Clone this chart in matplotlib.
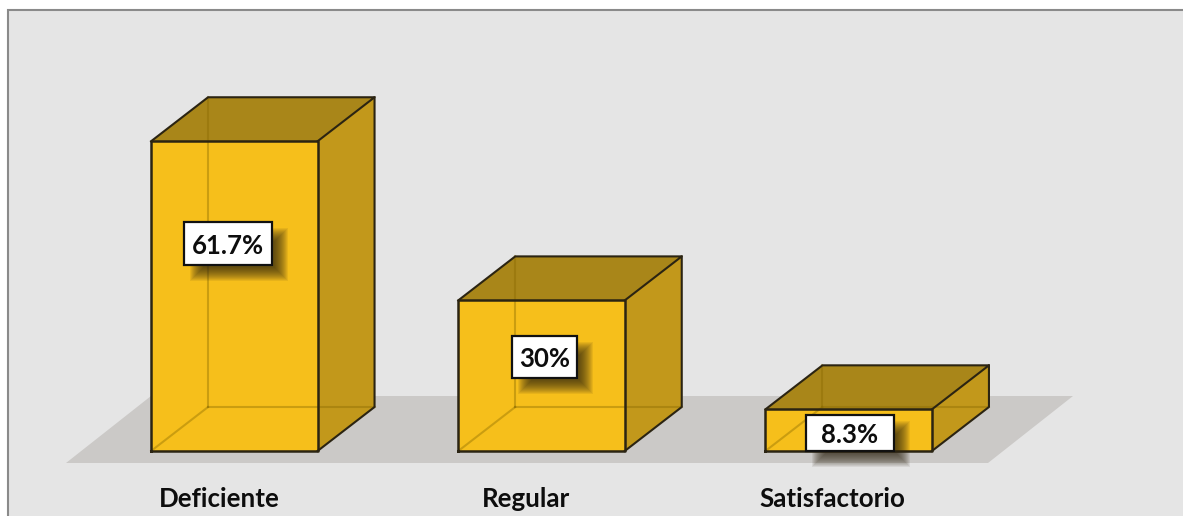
import matplotlib
matplotlib.use('Agg')
import matplotlib.pyplot as plt
from matplotlib.patches import Polygon, Rectangle

categories = ['Deficiente', 'Regular', 'Satisfactorio']
values = [61.7, 30, 8.3]
value_labels = ['61.7%', '30%', '8.3%']

W, H = 1183, 516
# pixel scale of the chart
x_step = 307.2
x_zero = 234.3
y_zero = 451
y_step = 5.02


# pixel sizes to data units
def px_x(p):
    return p / x_step


def px_y(p):
    return p / y_step


plt.rcParams['font.family'] = ['Lato', 'DejaVu Sans']
plt.rcParams['font.weight'] = 'bold'

fig = plt.figure(figsize=(W / 100, H / 100), dpi=100, facecolor='white')
ax = fig.add_axes([0, 0, 1, 1])
ax.set_xlim(-x_zero / x_step, (W - x_zero) / x_step)
ax.set_ylim((y_zero - H) / y_step, y_zero / y_step)
ax.axis('off')

# chart panel
ax.add_patch(Rectangle((px_x(8 - x_zero), px_y(y_zero - H - 5)), px_x(W), px_y(H - 5),
                       fc='#e5e5e5', ec='#8a8a8a', lw=1.5, zorder=0))

bar_w = px_x(166.5)
dx = px_x(57)
dy = px_y(44)

# floor
ax.add_patch(Polygon([(px_x(66 - x_zero), px_y(-12)), (px_x(988 - x_zero), px_y(-12)),
                      (px_x(1073 - x_zero), px_y(55)), (px_x(151 - x_zero), px_y(55))],
                     closed=True, fc='#cbc9c7', ec='none', zorder=1))

edge = '#2b2412'
inner = '#8a6a00'
label_dx = [-6.3, 3, 1]
label_y = [41.3, 18.7, 3.6]
label_w = [88, 65, 88]
label_h = [43, 42, 36]
name_dx = [-14.5, -15.5, -16.5]

for i, v in enumerate(values):
    x0 = i - bar_w / 2
    x1 = i + bar_w / 2
    # faces
    ax.add_patch(Polygon([(x1, 0), (x1 + dx, dy), (x1 + dx, v + dy), (x1, v)], closed=True,
                         fc='#c2981b', ec='none', zorder=2))
    ax.add_patch(Polygon([(x0, v), (x1, v), (x1 + dx, v + dy), (x0 + dx, v + dy)], closed=True,
                         fc='#a98619', ec='none', zorder=2))
    ax.add_patch(Rectangle((x0, 0), bar_w, v, fc='#f6bf1b', ec='none', zorder=2))
    # hidden edges showing through
    ax.plot([x0 + dx, x0 + dx], [dy, v + dy], color=inner, alpha=0.4, lw=1.5, zorder=3)
    ax.plot([x0 + dx, x1 + dx], [dy, dy], color=inner, alpha=0.4, lw=1.5, zorder=3)
    ax.plot([x0, x0 + dx], [0, dy], color=inner, alpha=0.4, lw=1.5, zorder=3)
    # visible edges
    ax.plot([x0, x0, x1, x1, x0], [0, v, v, 0, 0], color=edge, lw=1.8, zorder=4)
    ax.plot([x0, x0 + dx, x1 + dx, x1], [v, v + dy, v + dy, v], color=edge, lw=1.5, zorder=4)
    ax.plot([x1 + dx, x1 + dx, x1], [v + dy, dy, 0], color=edge, lw=1.5, zorder=4)

    # value label box with soft shadow
    cx = i + px_x(label_dx[i])
    cy = label_y[i]
    w = px_x(label_w[i])
    h = px_y(label_h[i])
    for k in range(14):
        grow = 5 - k
        ax.add_patch(Rectangle((cx - w / 2 + px_x(11 - grow), cy - h / 2 - px_y(11 + grow)),
                               w + px_x(2 * grow), h + px_y(2 * grow),
                               fc='#2a2210', ec='none', alpha=0.08, zorder=5))
    ax.add_patch(Rectangle((cx - w / 2, cy - h / 2), w, h, fc='white', ec='#111111', lw=1.6, zorder=6))
    ax.text(cx, cy, value_labels[i], ha='center', va='center_baseline', fontsize=18.5,
            color='#0d0d0d', zorder=7)

    # category name
    ax.text(i + px_x(name_dx[i]), px_y(-48), categories[i], ha='center', va='center',
            fontsize=18.6, color='#0d0d0d', zorder=7)

fig.savefig('out.png', dpi=100)
